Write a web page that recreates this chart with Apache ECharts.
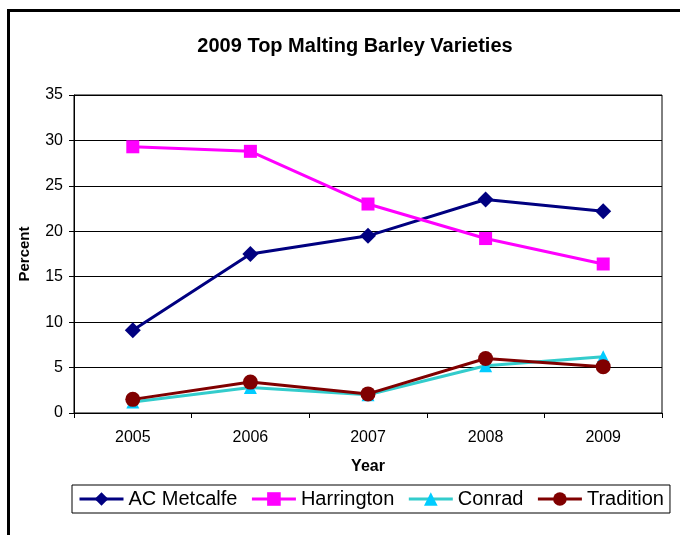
<!DOCTYPE html>
<html>
<head>
<meta charset="utf-8">
<script src="https://cdn.jsdelivr.net/npm/echarts@6/dist/echarts.min.js"></script>
<style>
html,body{margin:0;padding:0;background:#fff;}
#chart{width:680px;height:535px;}
</style>
</head>
<body>
<div id="chart"></div>
<script>
var years = ['2005', '2006', '2007', '2008', '2009'];
var acMetcalfe = [9.1, 17.5, 19.5, 23.5, 22.2];
var harrington = [29.3, 28.8, 23.0, 19.2, 16.4];
var conrad = [1.2, 2.8, 2.0, 5.2, 6.2];
var tradition = [1.5, 3.4, 2.1, 6.0, 5.1];
var yTicks = [0, 5, 10, 15, 20, 25, 30, 35];

var font = '"Liberation Sans", Arial, sans-serif';
var chart = echarts.init(document.getElementById('chart'));
chart.setOption({
  animation: false,
  backgroundColor: '#fff',
  textStyle: {fontFamily: font, color: '#000'},
  title: {
    text: '2009 Top Malting Barley Varieties',
    left: 350, top: 31, textAlign: 'center',
    textStyle: {fontFamily: font, fontSize: 20, fontWeight: 'bold', color: '#000'}
  },
  graphic: [{
    type: 'rect', silent: true, z: -1,
    shape: {x: 8.5, y: 10.5, width: 700, height: 560},
    style: {fill: 'none', stroke: '#000', lineWidth: 3}
  }],
  grid: {left: 74, right: 18, top: 95, bottom: 122, show: true, borderColor: '#000', borderWidth: 1},
  legend: {
    left: 72, top: 485,
    borderColor: '#000', borderWidth: 1,
    padding: [4, 6, 4, 6],
    itemWidth: 44, itemHeight: 17, itemGap: 13,
    lineStyle: {width: 3},
    textStyle: {fontFamily: font, fontSize: 20, color: '#000'},
    data: ['AC Metcalfe', 'Harrington', 'Conrad', 'Tradition']
  },
  xAxis: {
    type: 'category', data: years, boundaryGap: true,
    name: 'Year', nameLocation: 'middle', nameGap: 46,
    nameTextStyle: {fontFamily: font, fontSize: 16, fontWeight: 'bold', color: '#000'},
    axisLine: {lineStyle: {color: '#000', width: 1}},
    axisTick: {show: true, length: 5, inside: false, alignWithLabel: false, lineStyle: {color: '#000'}},
    axisLabel: {fontFamily: font, fontSize: 16, color: '#000', margin: 17},
    splitLine: {show: false}
  },
  yAxis: {
    type: 'value', min: yTicks[0], max: yTicks[yTicks.length - 1], interval: 5,
    name: 'Percent', nameLocation: 'middle', nameGap: 42, nameRotate: 90,
    nameTextStyle: {fontFamily: font, fontSize: 15, fontWeight: 'bold', color: '#000'},
    axisLine: {show: true, lineStyle: {color: '#000', width: 1}},
    axisTick: {show: true, length: 5, inside: false, lineStyle: {color: '#000'}},
    axisLabel: {fontFamily: font, fontSize: 16, color: '#000', margin: 11},
    splitLine: {show: true, lineStyle: {color: '#000', width: 1}}
  },
  series: [
    {name: 'AC Metcalfe', type: 'line', data: acMetcalfe, symbol: 'diamond', symbolSize: 16,
     itemStyle: {color: '#000080'}, lineStyle: {color: '#000080', width: 3}},
    {name: 'Harrington', type: 'line', data: harrington, symbol: 'rect', symbolSize: 13,
     itemStyle: {color: '#FF00FF'}, lineStyle: {color: '#FF00FF', width: 3}},
    {name: 'Conrad', type: 'line', data: conrad, symbol: 'triangle', symbolSize: 13,
     itemStyle: {color: '#00CCFF'}, lineStyle: {color: '#33CCCC', width: 3}},
    {name: 'Tradition', type: 'line', data: tradition, symbol: 'circle', symbolSize: 15,
     itemStyle: {color: '#800000'}, lineStyle: {color: '#800000', width: 3}}
  ]
});
</script>
</body>
</html>
